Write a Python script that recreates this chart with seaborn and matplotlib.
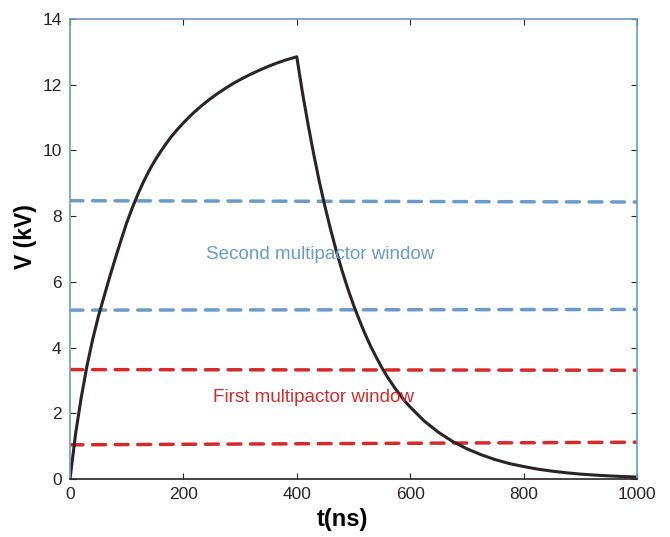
import matplotlib
matplotlib.use("Agg")
import matplotlib.pyplot as plt
import seaborn as sns
import pandas as pd

# ---- data ----
t_ns = [0, 10, 20, 30, 40, 50, 60, 70, 80, 90, 100, 110, 120, 130, 140, 150, 160, 170, 180, 190, 200,
        215, 230, 245, 260, 275, 290, 305, 320, 335, 350, 365, 380, 390, 400,
        405, 410, 420, 430, 440, 450, 460, 470, 480, 490, 500, 510, 520, 530, 540, 550, 560, 575, 590, 600,
        625, 650, 675, 700, 725, 750, 775, 800, 825, 850, 875, 900, 925, 950, 975, 1000]
v_kv = [0, 1.4, 2.5, 3.45, 4.25, 4.95, 5.55, 6.15, 6.72, 7.27, 7.8, 8.26, 8.68, 9.06, 9.4, 9.7, 9.97, 10.22, 10.45, 10.65, 10.84,
        11.1, 11.33, 11.54, 11.73, 11.9, 12.06, 12.2, 12.33, 12.45, 12.56, 12.66, 12.75, 12.8, 12.85,
        12.3, 11.76, 10.78, 9.87, 9.03, 8.27, 7.57, 6.92, 6.33, 5.79, 5.3, 4.85, 4.43, 4.05, 3.71, 3.39, 3.1, 2.72, 2.38, 2.19,
        1.76, 1.42, 1.14, 0.92, 0.74, 0.59, 0.47, 0.38, 0.3, 0.24, 0.19, 0.15, 0.12, 0.095, 0.075, 0.06]

window_t = [0, 1000]
second_upper = [8.47, 8.43]
second_lower = [5.14, 5.16]
first_upper = [3.33, 3.31]
first_lower = [1.04, 1.12]

second_label = "Second multipactor window"
first_label = "First multipactor window"
x_ticks = [0, 200, 400, 600, 800, 1000]
y_ticks = [0, 2, 4, 6, 8, 10, 12, 14]

BLUE = "#6b9bc9"
RED = "#d42a2a"
DARK = "#2b2326"
TXT = "#2e2226"

sns.set_theme(style="white")
plt.rcParams["font.family"] = ["Liberation Sans", "DejaVu Sans"]

fig = plt.figure(figsize=(6.7, 5.37), dpi=100)
ax = fig.add_axes([0.1045, 0.108, 0.8462, 0.8566])

dash = (3.7, 2.8)
for vals, col in [(second_upper, BLUE), (second_lower, BLUE), (first_upper, RED), (first_lower, RED)]:
    df = pd.DataFrame({"t": window_t, "v": vals})
    sns.lineplot(data=df, x="t", y="v", ax=ax, color=col, linewidth=2.5)
    ax.lines[-1].set_dashes(dash)
    ax.lines[-1].set_dash_capstyle("round")

curve = pd.DataFrame({"t": t_ns, "v": v_kv})
sns.lineplot(data=curve, x="t", y="v", ax=ax, color=DARK, linewidth=2.2, sort=False)
ax.lines[-1].set_solid_joinstyle("round")

ax.text(240, 6.82, second_label, color=BLUE, fontsize=13.6, va="center", ha="left")
ax.text(252, 2.47, first_label, color=RED, fontsize=13.6, va="center", ha="left")

ax.set_xlim(0, 1000)
ax.set_ylim(0, 14)
ax.set_xticks(x_ticks)
ax.set_yticks(y_ticks)
ax.tick_params(direction="in", length=4, width=0.8, colors=TXT, labelsize=12.5,
               top=True, right=True, bottom=True, left=True, pad=6)
for lab in ax.get_xticklabels() + ax.get_yticklabels():
    lab.set_color(TXT)

ax.set_xlabel("t(ns)", fontsize=17, fontweight="bold", color="black")
ax.set_ylabel("V (kV)", fontsize=16.5, fontweight="bold", color="black")
ax.xaxis.set_label_coords(0.481, -0.062)
ax.yaxis.set_label_coords(-0.058, 0.526)

for side in ["left", "top", "right"]:
    ax.spines[side].set_color(BLUE)
    ax.spines[side].set_linewidth(1.2)
ax.spines["bottom"].set_color(DARK)
ax.spines["bottom"].set_linewidth(1.2)
for side in ax.spines:
    ax.spines[side].set_visible(True)

fig.savefig("out.png", dpi=100)
